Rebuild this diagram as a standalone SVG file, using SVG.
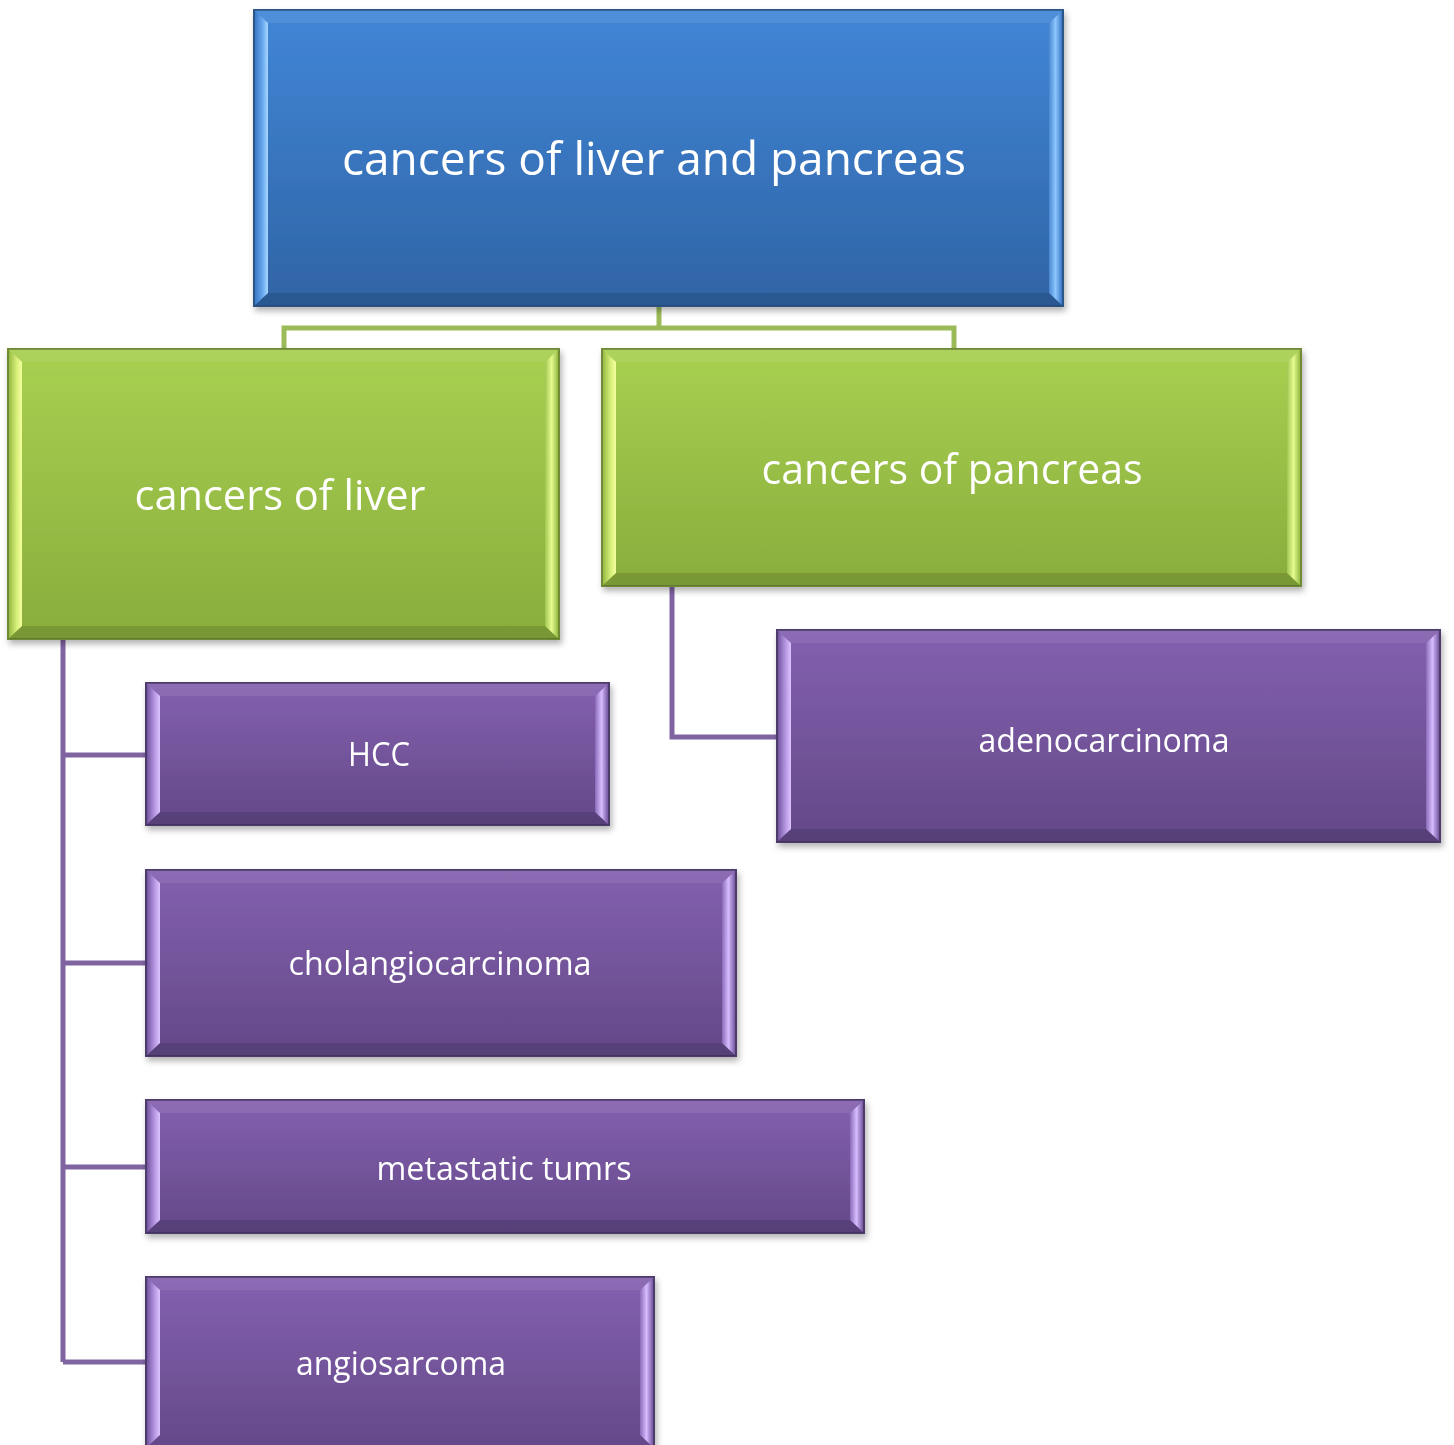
<svg xmlns="http://www.w3.org/2000/svg" width="1454" height="1445" viewBox="0 0 1454 1445">
<defs>
<linearGradient id="gBlue" x1="0" y1="0" x2="0" y2="1"><stop offset="0" stop-color="#4186d7"/><stop offset="1" stop-color="#2f64a5"/></linearGradient>
<linearGradient id="gGreen" x1="0" y1="0" x2="0" y2="1"><stop offset="0" stop-color="#a8d050"/><stop offset="1" stop-color="#89ad3d"/></linearGradient>
<linearGradient id="gPurple" x1="0" y1="0" x2="0" y2="1"><stop offset="0" stop-color="#8460af"/><stop offset="1" stop-color="#634888"/></linearGradient>
<linearGradient id="lBlueL" x1="0" y1="0" x2="1" y2="0"><stop offset="0" stop-color="#3a78c4"/><stop offset="0.6" stop-color="#6aaaf0"/><stop offset="1" stop-color="#a8d8ff"/></linearGradient>
<linearGradient id="lBlueR" x1="1" y1="0" x2="0" y2="0"><stop offset="0" stop-color="#3a78c4"/><stop offset="0.5" stop-color="#8cc6ff"/><stop offset="1" stop-color="#4a88d0"/></linearGradient>
<linearGradient id="lGreenL" x1="0" y1="0" x2="1" y2="0"><stop offset="0" stop-color="#95bb44"/><stop offset="0.6" stop-color="#d8f07a"/><stop offset="1" stop-color="#f4ffa0"/></linearGradient>
<linearGradient id="lGreenR" x1="1" y1="0" x2="0" y2="0"><stop offset="0" stop-color="#95bb44"/><stop offset="0.5" stop-color="#e6fa90"/><stop offset="1" stop-color="#a0c650"/></linearGradient>
<linearGradient id="lPurpleL" x1="0" y1="0" x2="1" y2="0"><stop offset="0" stop-color="#7456a0"/><stop offset="0.6" stop-color="#b898e4"/><stop offset="1" stop-color="#dcc4ff"/></linearGradient>
<linearGradient id="lPurpleR" x1="1" y1="0" x2="0" y2="0"><stop offset="0" stop-color="#7456a0"/><stop offset="0.5" stop-color="#d6bcff"/><stop offset="1" stop-color="#8a6ab8"/></linearGradient>
<filter id="sh" x="-5%" y="-5%" width="110%" height="115%"><feDropShadow dx="2" dy="4" stdDeviation="3" flood-color="#000" flood-opacity="0.3"/></filter>
</defs>
<style>
text{font-family:"Open Sans","Noto Sans","Liberation Sans",sans-serif;fill:#fff;text-anchor:middle}
.top{font-size:46px}
.grn{font-size:42px}
.pur{font-size:33px}
.cg{fill:none;stroke:#9bbb59;stroke-width:5}
.cp{fill:none;stroke:#8064a2;stroke-width:5}
.ob{stroke:#2b5688;stroke-width:2}
.og{stroke:#6f8a35;stroke-width:2}
.op{stroke:#4d3a6c;stroke-width:2}
.tb{fill:#fff;opacity:0.08}
.bb{fill:#000;opacity:0.12}
</style>
<g id="connectors">
<path class="cg" d="M659 306V328M284 349V328H954V349"/>
<path class="cp" d="M63 639V1362M63 755H146M63 963H146M63 1167H146M63 1362H146"/>
<path class="cp" d="M672 586V737H777"/>
</g>
<g id="n-root" filter="url(#sh)">
<rect x="254" y="10" width="809" height="296" fill="url(#gBlue)" class="ob"/>
<polygon class="tb" points="254,10 1063,10 1049,23 268,23"/>
<polygon class="bb" points="254,306 1063,306 1049,293 268,293"/>
<polygon fill="url(#lBlueL)" points="255,11 268,23 268,293 255,305"/>
<polygon fill="url(#lBlueR)" points="1062,11 1049,23 1049,293 1062,305"/>
<text class="top" x="654" y="175" textLength="624" lengthAdjust="spacingAndGlyphs">cancers of liver and pancreas</text>
</g>
<g id="n-liver" filter="url(#sh)">
<rect x="8" y="349" width="551" height="290" fill="url(#gGreen)" class="og"/>
<polygon class="tb" points="8,349 559,349 545,362 22,362"/>
<polygon class="bb" points="8,639 559,639 545,626 22,626"/>
<polygon fill="url(#lGreenL)" points="9,350 22,362 22,626 9,638"/>
<polygon fill="url(#lGreenR)" points="558,350 545,362 545,626 558,638"/>
<text class="grn" x="280" y="510" textLength="291" lengthAdjust="spacingAndGlyphs">cancers of liver</text>
</g>
<g id="n-pancreas" filter="url(#sh)">
<rect x="602" y="349" width="699" height="237" fill="url(#gGreen)" class="og"/>
<polygon class="tb" points="602,349 1301,349 1287,362 616,362"/>
<polygon class="bb" points="602,586 1301,586 1287,573 616,573"/>
<polygon fill="url(#lGreenL)" points="603,350 616,362 616,573 603,585"/>
<polygon fill="url(#lGreenR)" points="1300,350 1287,362 1287,573 1300,585"/>
<text class="grn" x="952" y="484" textLength="381" lengthAdjust="spacingAndGlyphs">cancers of pancreas</text>
</g>
<g id="n-hcc" filter="url(#sh)">
<rect x="146" y="683" width="463" height="142" fill="url(#gPurple)" class="op"/>
<polygon class="tb" points="146,683 609,683 595,696 160,696"/>
<polygon class="bb" points="146,825 609,825 595,812 160,812"/>
<polygon fill="url(#lPurpleL)" points="147,684 160,696 160,812 147,824"/>
<polygon fill="url(#lPurpleR)" points="608,684 595,696 595,812 608,824"/>
<text class="pur" x="379" y="766" textLength="62" lengthAdjust="spacingAndGlyphs">HCC</text>
</g>
<g id="n-chol" filter="url(#sh)">
<rect x="146" y="870" width="590" height="186" fill="url(#gPurple)" class="op"/>
<polygon class="tb" points="146,870 736,870 722,883 160,883"/>
<polygon class="bb" points="146,1056 736,1056 722,1043 160,1043"/>
<polygon fill="url(#lPurpleL)" points="147,871 160,883 160,1043 147,1055"/>
<polygon fill="url(#lPurpleR)" points="735,871 722,883 722,1043 735,1055"/>
<text class="pur" x="440" y="975" textLength="303" lengthAdjust="spacingAndGlyphs">cholangiocarcinoma</text>
</g>
<g id="n-meta" filter="url(#sh)">
<rect x="146" y="1100" width="718" height="133" fill="url(#gPurple)" class="op"/>
<polygon class="tb" points="146,1100 864,1100 850,1113 160,1113"/>
<polygon class="bb" points="146,1233 864,1233 850,1220 160,1220"/>
<polygon fill="url(#lPurpleL)" points="147,1101 160,1113 160,1220 147,1232"/>
<polygon fill="url(#lPurpleR)" points="863,1101 850,1113 850,1220 863,1232"/>
<text class="pur" x="504" y="1180" textLength="255" lengthAdjust="spacingAndGlyphs">metastatic tumrs</text>
</g>
<g id="n-angio" filter="url(#sh)">
<rect x="146" y="1277" width="508" height="178" fill="url(#gPurple)" class="op"/>
<polygon class="tb" points="146,1277 654,1277 640,1290 160,1290"/>
<polygon fill="url(#lPurpleL)" points="147,1278 160,1290 160,1435 147,1447"/>
<polygon fill="url(#lPurpleR)" points="653,1278 640,1290 640,1435 653,1447"/>
<text class="pur" x="401" y="1375" textLength="210" lengthAdjust="spacingAndGlyphs">angiosarcoma</text>
</g>
<g id="n-adeno" filter="url(#sh)">
<rect x="777" y="630" width="663" height="212" fill="url(#gPurple)" class="op"/>
<polygon class="tb" points="777,630 1440,630 1426,643 791,643"/>
<polygon class="bb" points="777,842 1440,842 1426,829 791,829"/>
<polygon fill="url(#lPurpleL)" points="778,631 791,643 791,829 778,841"/>
<polygon fill="url(#lPurpleR)" points="1439,631 1426,643 1426,829 1439,841"/>
<text class="pur" x="1104" y="752" textLength="251" lengthAdjust="spacingAndGlyphs">adenocarcinoma</text>
</g>
</svg>
